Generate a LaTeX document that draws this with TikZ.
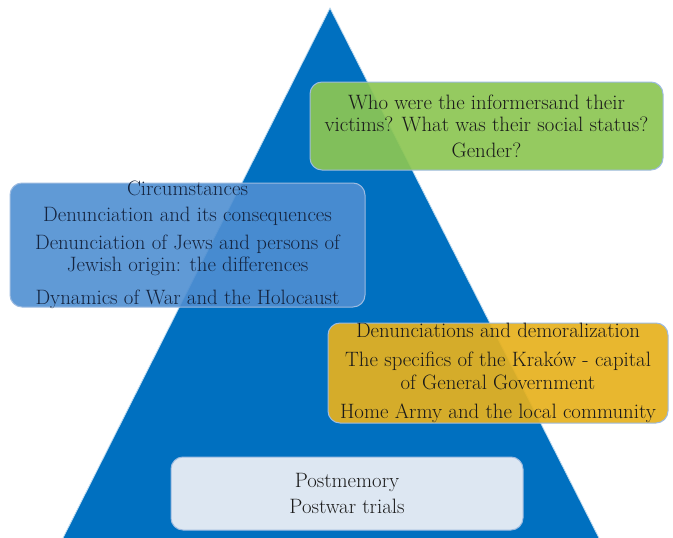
\documentclass[tikz,border=0pt]{standalone}
\definecolor{pyramid}{HTML}{0070C0}
\definecolor{greenbox}{HTML}{8CC653}
\definecolor{bluebox}{HTML}{4F8FD2}
\definecolor{goldbox}{HTML}{E6B11F}
\definecolor{palebox}{HTML}{DDE7F2}
\definecolor{boxline}{HTML}{9DBBE0}
\definecolor{navytext}{HTML}{14243F}
\definecolor{darktext}{HTML}{1A1A1A}
\begin{document}
\begin{tikzpicture}[x=1pt, y=-1pt,
  topic/.style={draw=boxline, line width=1pt, rounded corners=12pt, align=center,
    inner sep=0pt, text=darktext, font=\fontsize{20.8}{22.5}\selectfont}]
\useasboundingbox (0,0) rectangle (673,538);
\coordinate (apex) at (330,8);
\coordinate (baseL) at (62,540);
\coordinate (baseR) at (600,540);
\fill [pyramid, draw=white!75!pyramid, line width=0.8pt] (apex) -- (baseR) -- (baseL) -- cycle;

\node [topic, fill=greenbox, fill opacity=0.92, text opacity=1,
  minimum width=353pt, minimum height=88pt] (who) at (486.5,126)
  {Who were the informersand their\\ victims? What was their social status?\\[3pt] Gender?};
\node [topic, fill=bluebox, fill opacity=0.9, text opacity=1, text=navytext,
  minimum width=355pt, minimum height=124pt, inner ysep=-12pt] (circ) at (187.5,245)
  {Circumstances\\[3pt] Denunciation and its consequences\\[5.5pt] Denunciation of Jews and persons of\\ Jewish origin: the differences\\[10pt] Dynamics of War and the Holocaust};
\node [topic, fill=goldbox, fill opacity=0.93, text opacity=1,
  minimum width=340pt, minimum height=100pt, inner ysep=-8pt] (demor) at (498,373)
  {Denunciations and demoralization\\[6.5pt] The specifics of the Kraków - capital\\ of General Government\\[6.5pt] Home Army and the local community};
\node [topic, fill=palebox,
  minimum width=352pt, minimum height=73pt] (post) at (347,493.5)
  {Postmemory\\[4pt] Postwar trials};
\end{tikzpicture}
\end{document}
